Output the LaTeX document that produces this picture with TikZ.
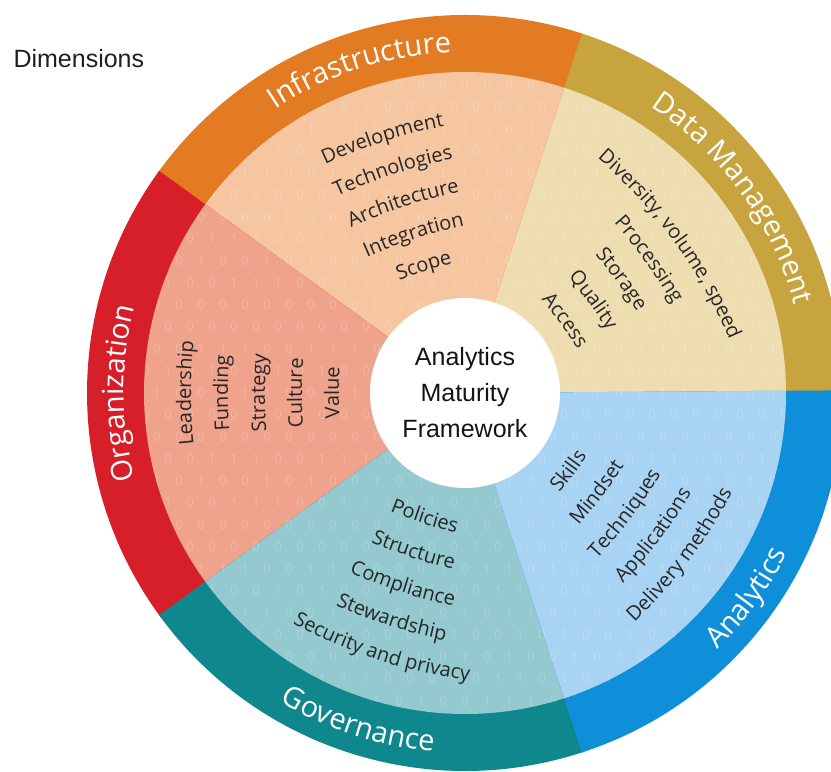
\documentclass[tikz,border=0pt]{standalone}
\usepackage{fontspec}
\setmainfont{Open Sans}
\newfontfamily\helv{Liberation Sans}
\usetikzlibrary{decorations.text}
\definecolor{infraring}{HTML}{E27B22}
\definecolor{infrafill}{HTML}{F6C6A0}
\definecolor{dataring}{HTML}{C8A43E}
\definecolor{datafill}{HTML}{EEDDB0}
\definecolor{anring}{HTML}{0F8FD9}
\definecolor{anfill}{HTML}{A9D3F3}
\definecolor{govring}{HTML}{0E878D}
\definecolor{govfill}{HTML}{93C9CF}
\definecolor{orgring}{HTML}{D71F2A}
\definecolor{orgfill}{HTML}{EFA38C}
\newcommand{\ringfont}{\fontsize{29}{34}\selectfont\color{white}}
\newcommand{\itemfont}{\fontsize{20}{24}\selectfont\color{black!85}}
\tikzset{
  ringtxt/.style={decorate, decoration={text along path, text align=center,
      text/.expanded={|\noexpand\ringfont|#1}}},
  itemtxt/.style={decorate, decoration={text along path, text align=center,
      text/.expanded={|\noexpand\itemfont|#1}}},
  bit/.style={font=\fontsize{13}{13}\selectfont, text=white, text opacity=0.2, inner sep=0pt},
  hub/.style={circle, fill=white, minimum size=190, inner sep=0pt, align=center,
      font=\helv\fontsize{25}{36}\selectfont, text=black!92},
}
\begin{document}
\begin{tikzpicture}[x=1pt,y=1pt]
  \useasboundingbox (-465,-379) rectangle (366,393);

  % --- segments: outer ring and inner wedge ---
  \foreach \a/\ringc/\fillc in {0/dataring/datafill, 72/infraring/infrafill,
      144/orgring/orgfill, 216/govring/govfill, 288/anring/anfill}{
    \fill[\ringc] (0,0) -- (\a:378) arc[start angle=\a, delta angle=72.4, radius=378] -- cycle;
    \fill[\fillc] (0,0) -- (\a:321) arc[start angle=\a, delta angle=72.4, radius=321] -- cycle;
  }

  % --- binary background ---
  \begin{scope}
    \clip (0,0) circle (321);
    \foreach \i in {-15,...,15}{
      \foreach \j in {-15,...,15}{
        \pgfmathtruncatemacro\dig{mod(abs(\i*\i+3*\j+\i*\j),5)<2}
        \pgfmathsetmacro\bx{\i*22+11*mod(abs(\j),2)}
        \node[bit] (bit\i-\j) at (\bx, \j*22) {\dig};
      }
    }
  \end{scope}

  % --- hub ---
  \node[hub] (hub) at (0,0) {Analytics\\Maturity\\Framework};

  % --- ring labels ---
  \path[ringtxt=Infrastructure] (144:341) arc[start angle=144, end angle=72, radius=341];
  \path[ringtxt=Data Management] (72:341) arc[start angle=72, end angle=0, radius=341];
  \path[ringtxt=Organization] (216:341) arc[start angle=216, end angle=144, radius=341];
  \path[ringtxt=Governance] (216:360) arc[start angle=216, end angle=288, radius=360];
  \path[ringtxt=Analytics] (288:360) arc[start angle=288, end angle=360, radius=360];

  % --- infrastructure items ---
  \foreach \txt [count=\k from 0] in {Scope, Integration, Architecture, Technologies, Development}{
    \pgfmathsetmacro\cr{128+34*\k-500}
    \path[itemtxt=\txt, shift={(108:\cr)}] (138:500) arc[start angle=138, end angle=78, radius=500];
  }
  % --- data management items ---
  \foreach \txt [count=\k from 0] in {Access, Quality, Storage, Processing, {Diversity, volume, speed}}{
    \pgfmathsetmacro\cr{118+35*\k-500}
    \path[itemtxt=\txt, shift={(36:\cr)}] (66:500) arc[start angle=66, end angle=6, radius=500];
  }
  % --- organization items ---
  \foreach \txt [count=\k from 0] in {Value, Culture, Strategy, Funding, Leadership}{
    \pgfmathsetmacro\cr{126+37*\k-500}
    \path[itemtxt=\txt, shift={(180:\cr)}] (210:500) arc[start angle=210, end angle=150, radius=500];
  }
  % --- governance items ---
  \foreach \txt [count=\k from 0] in {Policies, Structure, Compliance, Stewardship, Security and privacy}{
    \pgfmathsetmacro\cr{137+36*\k-500}
    \path[itemtxt=\txt, shift={(252:\cr)}] (222:500) arc[start angle=222, end angle=282, radius=500];
  }
  % --- analytics items ---
  \foreach \txt [count=\k from 0] in {Skills, Mindset, Techniques, Applications, Delivery methods}{
    \pgfmathsetmacro\cr{136+36*\k-500}
    \path[itemtxt=\txt, shift={(323:\cr)}] (293:500) arc[start angle=293, end angle=353, radius=500];
  }

  % --- caption ---
  \node[anchor=base west, font=\helv\fontsize{25}{28}\selectfont, text=black!88] (dims) at (-455,325) {Dimensions};
\end{tikzpicture}
\end{document}
